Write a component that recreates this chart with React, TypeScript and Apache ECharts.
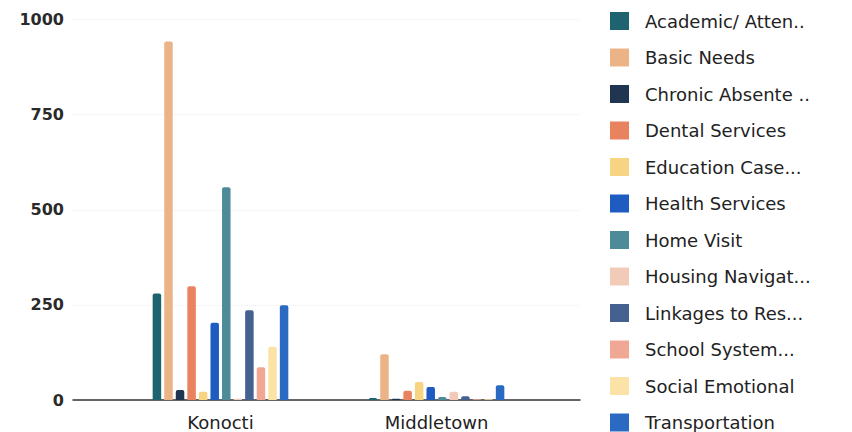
import React, { useEffect, useRef } from "react";
import * as echarts from "echarts";

const categories = ["Konocti", "Middletown"];
const seriesNames = [
  "Academic/ Atten..",
  "Basic Needs",
  "Chronic Absente ..",
  "Dental Services",
  "Education Case...",
  "Health Services",
  "Home Visit",
  "Housing Navigat...",
  "Linkages to Res...",
  "School System...",
  "Social Emotional",
  "Transportation",
];
const konoctiValues = [280, 942, 26, 299, 22, 203, 559, 3, 236, 86, 140, 249];
const middletownValues = [5, 120, 3, 24, 47, 34, 8, 22, 10, 2, 2, 39];
const colors = [
  "#1f6270",
  "#ecb486",
  "#1f3550",
  "#e9825f",
  "#f6d482",
  "#1e5cc2",
  "#4e8b98",
  "#f2cbb8",
  "#44618f",
  "#f0a895",
  "#fbe2a6",
  "#2a6ac2",
];
const yTicks = [0, 250, 500, 750, 1000];

export default function App() {
  const ref = useRef<HTMLDivElement>(null);
  useEffect(() => {
    if (!ref.current) return;
    const chart = echarts.init(ref.current, undefined, { renderer: "svg" });
    const font = "DejaVu Sans";
    chart.setOption({
      animation: false,
      backgroundColor: "#ffffff",
      grid: [
        { left: 73, right: 272, top: 19.5, bottom: 32 },
        { left: 112.5, width: 432, top: 19.5, bottom: 32 },
      ],
      xAxis: [
        {
          gridIndex: 0,
          type: "value",
          min: 0,
          max: 1,
          axisLine: { show: true, lineStyle: { color: "#333333", width: 1.5 } },
          axisTick: { show: false },
          axisLabel: { show: false },
          splitLine: { show: false },
        },
        {
          gridIndex: 1,
          type: "category",
          data: categories,
          axisLine: { show: false },
          axisTick: { show: false },
          axisLabel: {
            margin: 13,
            fontFamily: font,
            fontSize: 18,
            color: "#222222",
          },
        },
      ],
      yAxis: [
        {
          gridIndex: 0,
          type: "value",
          min: yTicks[0],
          max: yTicks[yTicks.length - 1],
          interval: 250,
          axisLine: { show: false },
          axisTick: { show: false },
          axisLabel: {
            margin: 9,
            fontFamily: font,
            fontSize: 16,
            fontWeight: "bold",
            color: "#2a2a2a",
            formatter: (v: number) => String(v),
          },
          splitLine: {
            show: true,
            lineStyle: { color: "#eeeeee", type: "dotted", width: 1 },
          },
        },
        {
          gridIndex: 1,
          type: "value",
          min: 0,
          max: 1000,
          show: false,
          splitLine: { show: false },
        },
      ],
      legend: {
        orient: "vertical",
        left: 610,
        top: 11,
        height: 480,
        padding: 0,
        itemWidth: 19,
        itemHeight: 18,
        itemGap: 16.5,
        icon: "rect",
        textStyle: {
          fontFamily: font,
          fontSize: 18,
          lineHeight: 20,
          color: "#222222",
          padding: [0, 0, 0, 11],
        },
        data: seriesNames,
      },
      series: seriesNames.map((name, i) => ({
        name,
        type: "bar",
        xAxisIndex: 1,
        yAxisIndex: 1,
        barWidth: 8.5,
        barGap: "36%",
        itemStyle: { color: colors[i], borderRadius: [2, 2, 0, 0] },
        data: [konoctiValues[i], middletownValues[i]],
      })),
    });
    return () => chart.dispose();
  }, []);
  return (
    <div
      ref={ref}
      style={{ position: "absolute", left: 0, top: 0, width: 852, height: 432 }}
    />
  );
}
